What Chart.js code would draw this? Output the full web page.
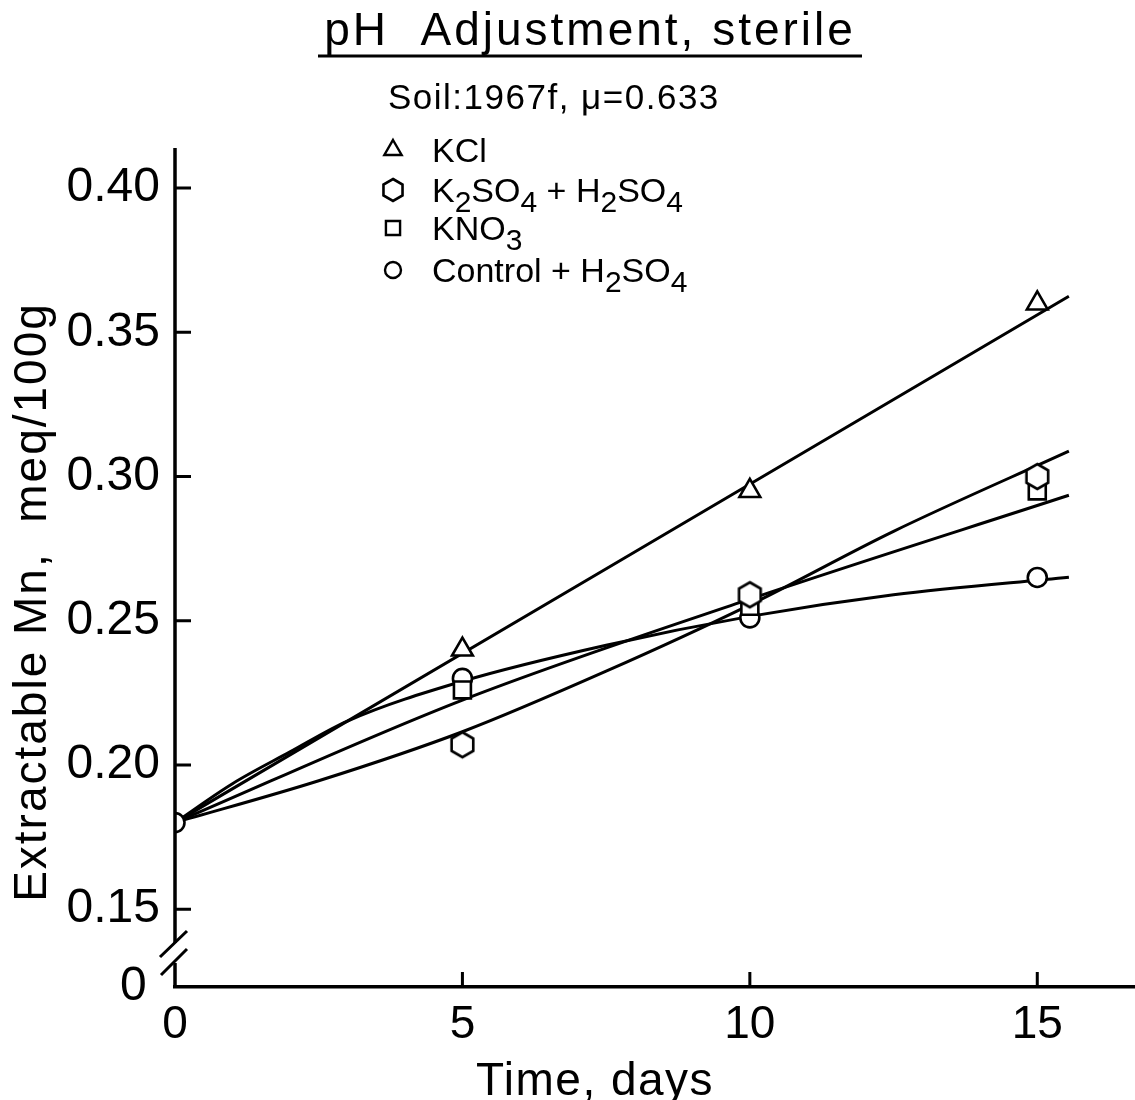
<!DOCTYPE html>
<html>
<head>
<meta charset="utf-8">
<script src="https://cdn.jsdelivr.net/npm/chart.js@4.4.1/dist/chart.umd.min.js"></script>
<style>
  html, body { margin: 0; padding: 0; background: #fff; }
</style>
</head>
<body>
<canvas id="chart" width="1135" height="1100"></canvas>
<script>
// measured points
const days = [0, 5, 10, 15];
const kcl = [0.180, 0.240, 0.295, 0.360];
const k2so4 = [0.180, 0.207, 0.259, 0.300];
const kno3 = [0.180, 0.226, 0.255, 0.295];
const control = [0.180, 0.230, 0.251, 0.265];

// fitted curves as drawn in the figure
const kclFitX = [0, 15.55];
const kclFitY = [0.180, 0.3625];
const k2so4FitX = [0, 2.5, 5, 7.5, 10, 12.5, 15.55];
const k2so4FitY = [0.180, 0.1945, 0.2115, 0.2325, 0.2555, 0.281, 0.3088];
const kno3FitX = [0, 5, 10, 15.55];
const kno3FitY = [0.180, 0.2225, 0.2575, 0.2935];
const controlFitX = [0, 1, 2, 3, 5, 7.5, 10, 12.5, 15.55];
const controlFitY = [0.180, 0.1935, 0.2045, 0.2152, 0.229, 0.2415, 0.2515, 0.259, 0.2651];

const xTicks = [0, 5, 10, 15];
const yTicks = [0.15, 0.20, 0.25, 0.30, 0.35, 0.40];
const yMin = 0.123;   // broken axis, labelled "0"
const yMax = 0.4139;
const xMax = 16.7;

const legendLabels = ['KCl', 'K_2SO_4 + H_2SO_4', 'KNO_3', 'Control + H_2SO_4'];

const FONT = "'Liberation Sans', Arial, sans-serif";

// hexagon marker (no built-in style for it)
function makeHexagon(r) {
  const c = document.createElement('canvas');
  c.width = Math.ceil(2 * r + 6); c.height = Math.ceil(2 * r + 6);
  const ctx = c.getContext('2d');
  const cx = c.width / 2, cy = c.height / 2;
  ctx.beginPath();
  for (let i = 0; i < 6; i++) {
    const a = -Math.PI / 2 + i * Math.PI / 3;
    const px = cx + r * Math.cos(a), py = cy + r * Math.sin(a);
    if (i === 0) ctx.moveTo(px, py); else ctx.lineTo(px, py);
  }
  ctx.closePath();
  ctx.fillStyle = '#fff';
  ctx.fill();
  ctx.lineWidth = 2.6;
  ctx.strokeStyle = '#000';
  ctx.stroke();
  return c;
}
const hexagon = makeHexagon(12.5);
const hexagonSmall = makeHexagon(11);

const toXY = (xs, ys) => xs.map((x, i) => ({x: x, y: ys[i]}));

function markerSet(label, ys, style, radius, showFirst) {
  return {
    label: label,
    data: toXY(days, ys),
    showLine: false,
    pointStyle: style,
    pointRadius: days.map((d, i) => (i === 0 && !showFirst) ? 0 : radius),
    pointBorderWidth: 2.6,
    pointBorderColor: '#000',
    pointBackgroundColor: '#fff',
    order: 0
  };
}

function curveSet(xs, ys) {
  return {
    label: 'fit',
    data: toXY(xs, ys),
    showLine: true,
    borderColor: '#000',
    borderWidth: 3,
    pointRadius: 0,
    cubicInterpolationMode: 'monotone',
    order: 1
  };
}

const markerSets = [
  markerSet('KCl', kcl, 'triangle', 12, false),
  markerSet('K2SO4 + H2SO4', k2so4, hexagon, 12, false),
  markerSet('KNO3', kno3, 'rect', 12, false),
  markerSet('Control + H2SO4', control, 'circle', 9.5, true)
];
const legendStyles = ['triangle', hexagonSmall, 'rect', 'circle'];
const legendRadius = [10, 10, 10, 8];

function drawText(ctx, text, x, y, size, align, spacing) {
  ctx.font = size + 'px ' + FONT;
  ctx.textAlign = align;
  ctx.letterSpacing = (spacing || 0) + 'px';
  ctx.fillText(text, x, y);
  ctx.letterSpacing = '0px';
}

// text with "_x" subscripts
function drawRich(ctx, text, x, y, size) {
  const parts = text.split(/(_\d)/);
  let cx = x;
  ctx.textAlign = 'left';
  parts.forEach(p => {
    if (!p) return;
    if (p[0] === '_') {
      ctx.font = (size - 4) + 'px ' + FONT;
      ctx.fillText(p[1], cx, y + 10);
      cx += ctx.measureText(p[1]).width;
    } else {
      ctx.font = size + 'px ' + FONT;
      ctx.fillText(p, cx, y);
      cx += ctx.measureText(p).width;
    }
  });
}

const decor = {
  id: 'decor',
  afterDraw(chart) {
    const ctx = chart.ctx;
    const area = chart.chartArea;
    const xs = chart.scales.x, ys = chart.scales.y;
    ctx.save();
    ctx.fillStyle = '#000';
    ctx.strokeStyle = '#000';
    ctx.textBaseline = 'alphabetic';

    // title + underline
    drawText(ctx, 'pH  Adjustment, sterile', 590, 45, 46, 'center', 3);
    ctx.lineWidth = 3;
    ctx.beginPath();
    ctx.moveTo(318, 56); ctx.lineTo(862, 56);
    ctx.stroke();
    drawText(ctx, 'Soil:1967f, \u03bc=0.633', 388, 109, 35, 'left', 1.5);

    // legend
    const rows = [150, 190, 228, 270];
    legendStyles.forEach((st, i) => {
      ctx.fillStyle = '#fff';
      ctx.strokeStyle = '#000';
      ctx.lineWidth = 2.4;
      Chart.helpers.drawPoint(ctx, {
        pointStyle: st,
        radius: legendRadius[i],
        rotation: 0,
        borderWidth: 2.4
      }, 393, rows[i]);
      ctx.fillStyle = '#000';
      drawRich(ctx, legendLabels[i], 432, rows[i] + 12, 34);
    });

    // axis titles
    drawText(ctx, 'Time, days', 595, 1095, 46, 'center', 1.5);
    ctx.save();
    ctx.translate(46, 602);
    ctx.rotate(-Math.PI / 2);
    drawText(ctx, 'Extractable Mn,  meq/100g', 0, 0, 46, 'center', 2);
    ctx.restore();

    // y axis with break
    const L = area.left, B = area.bottom;
    ctx.strokeStyle = '#000';
    ctx.lineWidth = 3.5;
    ctx.lineCap = 'butt';
    ctx.beginPath();
    ctx.moveTo(L, area.top); ctx.lineTo(L, B - 44);
    ctx.moveTo(L, B - 24); ctx.lineTo(L, B);
    ctx.stroke();
    ctx.lineWidth = 3;
    ctx.beginPath();
    ctx.moveTo(L - 15, B - 30); ctx.lineTo(L + 12, B - 56);
    ctx.moveTo(L - 14, B - 12); ctx.lineTo(L + 12, B - 38);
    ctx.stroke();

    // inward tick marks
    ctx.lineWidth = 3;
    ctx.beginPath();
    yTicks.forEach(v => {
      const py = ys.getPixelForValue(v);
      ctx.moveTo(L, py); ctx.lineTo(L + 16, py);
    });
    xTicks.forEach(v => {
      if (v === 0) return;
      const px = xs.getPixelForValue(v);
      ctx.moveTo(px, B); ctx.lineTo(px, B - 15);
    });
    ctx.stroke();
    ctx.restore();
  }
};

new Chart(document.getElementById('chart'), {
  type: 'scatter',
  data: {
    datasets: markerSets.concat([
      curveSet(kclFitX, kclFitY),
      curveSet(k2so4FitX, k2so4FitY),
      curveSet(kno3FitX, kno3FitY),
      curveSet(controlFitX, controlFitY)
    ])
  },
  options: {
    responsive: false,
    animation: false,
    devicePixelRatio: 1,
    layout: { autoPadding: false, padding: { top: 148, left: 0, right: 0, bottom: 0 } },
    plugins: {
      legend: { display: false },
      tooltip: { enabled: false },
      title: { display: false }
    },
    scales: {
      x: {
        type: 'linear',
        min: 0,
        max: xMax,
        grid: { display: false, drawTicks: false },
        border: { display: true, color: '#000', width: 3.5 },
        afterBuildTicks: s => { s.ticks = xTicks.map(v => ({value: v})); },
        afterFit: s => { s.height = 113; s.paddingLeft = 0; s.paddingRight = 0; },
        ticks: {
          color: '#000',
          font: { family: FONT, size: 46 },
          padding: 11,
          maxRotation: 0,
          autoSkip: false,
          callback: v => String(v)
        }
      },
      y: {
        type: 'linear',
        min: yMin,
        max: yMax,
        grid: { display: false, drawTicks: false },
        border: { display: false },
        afterBuildTicks: s => { s.ticks = [yMin].concat(yTicks).map(v => ({value: v})); },
        afterFit: s => { s.width = 175; s.paddingTop = 0; s.paddingBottom = 0; },
        ticks: {
          color: '#000',
          font: { family: FONT, size: 48 },
          padding: 15,
          autoSkip: false,
          callback: v => Math.abs(v - yMin) < 1e-6 ? '0 ' : v.toFixed(2)
        }
      }
    }
  },
  plugins: [decor]
});
</script>
</body>
</html>
